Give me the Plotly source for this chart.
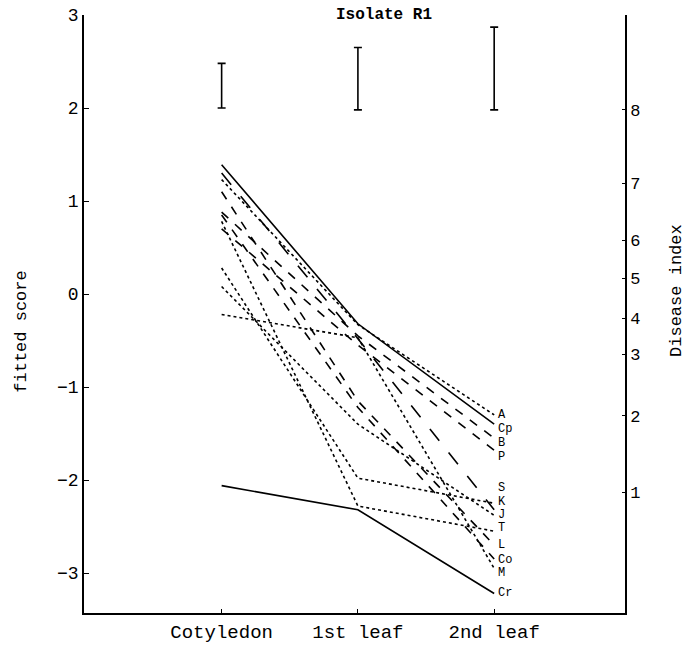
import plotly.graph_objects as go

categories = ["Cotyledon", "1st leaf", "2nd leaf"]
cat_pos = [0, 1, 2]

line_names = ["A", "Cp", "B", "P", "S", "K", "J", "T", "L", "Co", "M", "Cr"]
line_dash = ["dot", "solid", "dash", "dash", "dot", "longdash", "dot", "dot", "dash", "dash", "dot", "solid"]
coty_vals = [1.23, 1.39, 0.88, 0.70, 0.28, 1.30, 0.08, 0.78, 1.10, 0.85, -0.22, -2.06]
leaf1_vals = [-0.33, -0.32, -0.45, -0.55, -1.98, -0.48, -1.40, -2.28, -1.15, -1.22, -0.47, -2.32]
leaf2_vals = [-1.30, -1.40, -1.55, -1.68, -2.25, -2.32, -2.38, -2.55, -2.70, -2.85, -2.95, -3.22]
label_y = [-1.30, -1.45, -1.60, -1.75, -2.09, -2.24, -2.38, -2.52, -2.70, -2.86, -3.00, -3.22]

err_low = [2.00, 1.98, 1.98]
err_high = [2.48, 2.65, 2.87]

left_ticks = [-3, -2, -1, 0, 1, 2, 3]
right_tick_vals = [-2.13, -1.31, -0.65, -0.26, 0.17, 0.58, 1.19, 1.98]
right_tick_text = ["1", "2", "3", "4", "5", "6", "7", "8"]

FONT = "Liberation Mono"
fig = go.Figure()

for name, dash, a, b, c in zip(line_names, line_dash, coty_vals, leaf1_vals, leaf2_vals):
    fig.add_trace(go.Scatter(x=cat_pos, y=[a, b, c], mode="lines", name=name,
                             line=dict(color="black", width=1.6, dash=dash),
                             showlegend=False, hoverinfo="skip"))

# error bars (range bars)
mid = [(l + h) / 2 for l, h in zip(err_low, err_high)]
half = [(h - l) / 2 for l, h in zip(err_low, err_high)]
fig.add_trace(go.Scatter(x=cat_pos, y=mid, mode="markers", marker=dict(size=1, color="rgba(0,0,0,0)"),
                         error_y=dict(type="data", array=half, visible=True, color="black",
                                      thickness=1.6, width=4),
                         showlegend=False, hoverinfo="skip"))

# dummy trace for right axis
fig.add_trace(go.Scatter(x=[0], y=[0], yaxis="y2", mode="markers",
                         marker=dict(size=1, color="rgba(0,0,0,0)"), showlegend=False, hoverinfo="skip"))

for name, ly in zip(line_names, label_y):
    fig.add_annotation(x=2, y=ly, text=name, showarrow=False, xanchor="left", yanchor="middle",
                       xshift=2, font=dict(family=FONT, size=12, color="black"))

fig.add_annotation(x=0.555, y=1.0, xref="paper", yref="paper", text="<b>Isolate R1</b>", showarrow=False,
                   yanchor="middle", font=dict(family=FONT, size=16, color="black"))
fig.add_annotation(x=-0.115, y=0.47, xref="paper", yref="paper", text="fitted score", showarrow=False,
                   xanchor="center", yanchor="middle",
                   textangle=-90, font=dict(family=FONT, size=17, color="black"))
fig.add_annotation(x=1.094, y=0.54, xref="paper", yref="paper", text="Disease index", showarrow=False,
                   xanchor="center", yanchor="middle",
                   textangle=-90, font=dict(family=FONT, size=17, color="black"))

fig.update_layout(
    width=687, height=650,
    margin=dict(l=84, r=62, t=15, b=37),
    plot_bgcolor="white", paper_bgcolor="white",
    xaxis=dict(range=[-1.01, 2.96], tickvals=cat_pos, ticktext=categories, showgrid=False,
               zeroline=False, showline=True, linecolor="black", linewidth=1.6, automargin=False,
               ticks="inside", ticklen=4, tickcolor="black",
               tickfont=dict(family=FONT, size=19, color="black")),
    yaxis=dict(range=[-3.43, 3.0], tickvals=left_ticks, showgrid=False, zeroline=False,
               showline=True, linecolor="black", linewidth=1.6, ticks="inside", ticklen=5,
               automargin=False, tickcolor="black",
               tickfont=dict(family=FONT, size=18, color="black")),
    yaxis2=dict(range=[-3.43, 3.0], overlaying="y", side="right", tickvals=right_tick_vals,
                ticktext=right_tick_text, showgrid=False, zeroline=False, showline=True,
                linecolor="black", linewidth=1.6, ticks="inside", ticklen=3, tickcolor="black",
                automargin=False, tickfont=dict(family=FONT, size=17, color="black")),
)

fig.write_html("out.html", config={"displayModeBar": False},
               post_script="document.body.style.margin='0';document.body.style.padding='0';")
